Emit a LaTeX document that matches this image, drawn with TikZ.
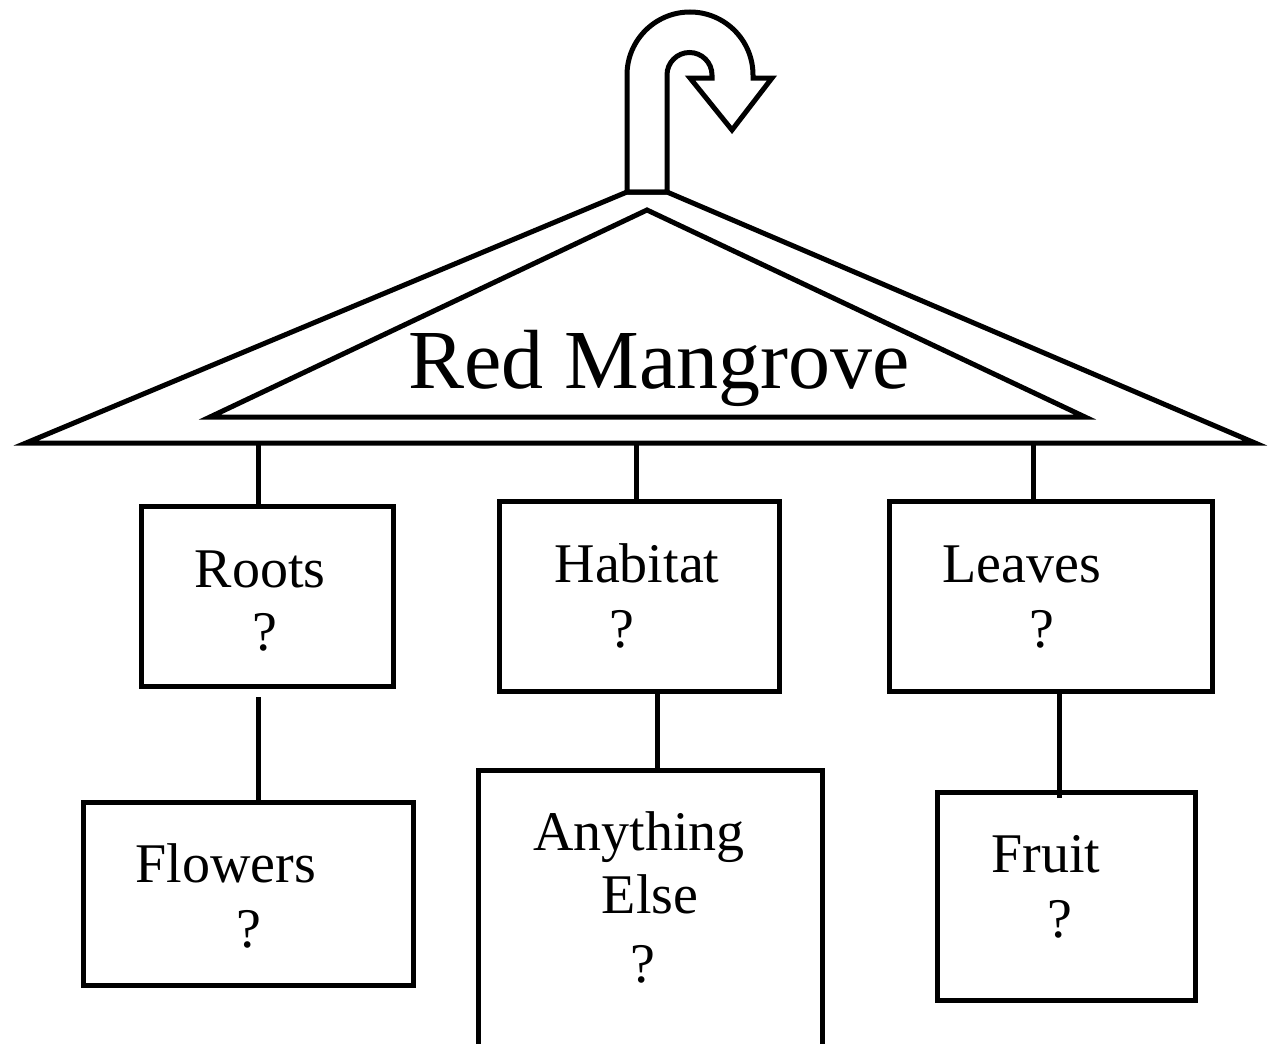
\documentclass[tikz,border=0pt]{standalone}
\usepackage{fontspec}
\setmainfont{Liberation Serif}
\usetikzlibrary{calc, positioning}

\tikzset{
    box/.style={draw, line width=2.5pt, inner sep=0pt},
    txt/.style={anchor=base, inner sep=0pt, font=\fontsize{28}{32}\selectfont},
    hanger/.style={line width=2.5pt, line join=miter},
    link/.style={line width=2.5pt}
}

\begin{document}
\begin{tikzpicture}[x=0.5pt, y=0.5pt]
    \useasboundingbox (0,0) rectangle (1270,-1044);

    % the hook
    \draw[hanger] (627,-192) -- (627,-75) arc[start angle=180, end angle=0, radius=63]
        -- (753,-78) -- (772,-78) -- (732,-130) -- (690,-78) -- (712,-78) -- (712,-75)
        arc[start angle=0, end angle=180, radius=22.5] -- (667,-192) -- cycle;

    % the hanger
    \draw[hanger] (26,-443) -- (627,-192) -- (667,-192) -- (1255,-443) -- cycle;
    \draw[hanger] (210,-417) -- (647,-210) -- (1085,-417) -- cycle;
    \node[font=\fontsize{42}{50}\selectfont, anchor=base] (title) at (659,-388) {Red Mangrove};

    % boxes
    \node[box, minimum width=126pt, minimum height=90pt] (roots) at (267,-596) {};
    \node[box, minimum width=140pt, minimum height=95pt] (habitat) at (639,-596) {};
    \node[box, minimum width=161.5pt, minimum height=95pt] (leaves) at (1050.5,-596) {};
    \node[box, minimum width=165pt, minimum height=91.5pt] (flowers) at (248,-894) {};
    \node[box, minimum width=172pt, minimum height=140pt] (anything) at (650,-910) {};
    \node[box, minimum width=129pt, minimum height=104pt] (fruit) at (1066,-896) {};

    % labels
    \node[txt] (rootsL) at (260,-587) {Roots};
    \node[txt] (rootsQ) at (265,-650) {?};
    \node[txt] (habitatL) at (637,-582) {Habitat};
    \node[txt] (habitatQ) at (622,-647) {?};
    \node[txt] (leavesL) at (1022,-582) {Leaves};
    \node[txt] (leavesQ) at (1042,-647) {?};
    \node[txt] (flowersL) at (226,-882) {Flowers};
    \node[txt] (flowersQ) at (249,-947) {?};
    \node[txt] (anythingL) at (639,-850) {Anything};
    \node[txt] (elseL) at (650,-913) {Else};
    \node[txt] (anythingQ) at (643,-982) {?};
    \node[txt] (fruitL) at (1046,-872) {Fruit};
    \node[txt] (fruitQ) at (1060,-937) {?};

    % connectors
    \coordinate (h1) at (258,-443);
    \coordinate (h2) at (636,-443);
    \coordinate (h3) at (1033,-443);
    \draw[link] (h1) -- (h1 |- roots.north);
    \draw[link] (h2) -- (h2 |- habitat.north);
    \draw[link] (h3) -- (h3 |- leaves.north);

    \coordinate (r1) at (258,-697);
    \coordinate (r2) at (657,-691);
    \coordinate (r3) at (1059,-691);
    \draw[link] (r1) -- (r1 |- flowers.north);
    \draw[link] (r2) -- (r2 |- anything.north);
    \draw[link] (r3) -- ($(r3 |- fruit.north)+(0,-8)$);
\end{tikzpicture}
\end{document}
